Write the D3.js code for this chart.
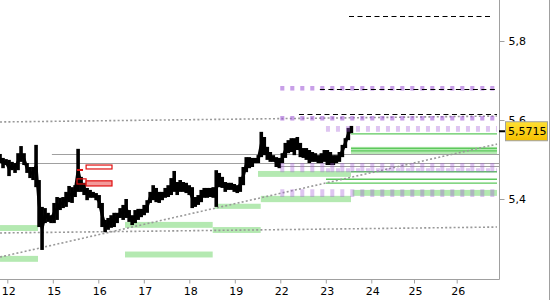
<!DOCTYPE html>
<html><head><meta charset="utf-8">
<script src="https://cdn.jsdelivr.net/npm/d3@7"></script>
<style>
body{margin:0;background:#fff}
svg{display:block}
text{font-family:"DejaVu Sans",sans-serif;font-size:11px;fill:#000}
</style>
</head><body><svg id="c" width="550" height="300"></svg>
<script>
// ---- data ----
const dayLabels = ["12","15","16","17","18","19","22","23","24","25","26"];
const yTicks = [5.4, 5.6, 5.8];
const lastPrice = 5.5715;
const priceStart = -0.16;   // day index of first bar
const priceStep = 0.066;    // days between bars
const priceHigh = [5.514,5.504,5.501,5.499,5.494,5.491,5.516,5.534,5.516,5.491,
5.481,5.481,5.537,5.448,5.380,5.377,5.365,5.359,5.390,5.405,
5.403,5.405,5.418,5.433,5.430,5.435,5.527,5.456,5.441,5.428,
5.423,5.418,5.415,5.410,5.390,5.347,5.352,5.359,5.365,5.365,
5.377,5.385,5.400,5.372,5.359,5.372,5.375,5.375,5.385,5.397,
5.418,5.435,5.428,5.418,5.418,5.428,5.435,5.453,5.471,5.443,
5.448,5.443,5.441,5.435,5.430,5.405,5.410,5.423,5.428,5.428,
5.428,5.430,5.473,5.466,5.456,5.443,5.441,5.441,5.438,5.435,
5.456,5.481,5.506,5.506,5.504,5.504,5.511,5.570,5.557,5.532,
5.519,5.511,5.506,5.504,5.516,5.542,5.549,5.554,5.554,5.557,
5.542,5.529,5.529,5.524,5.519,5.516,5.511,5.516,5.524,5.524,
5.519,5.511,5.511,5.519,5.537,5.554,5.580,5.585];
const priceLow = [5.491,5.478,5.486,5.458,5.473,5.466,5.473,5.494,5.486,5.466,
5.453,5.448,5.430,5.329,5.271,5.339,5.342,5.339,5.339,5.347,
5.372,5.377,5.380,5.392,5.390,5.405,5.418,5.418,5.410,5.397,
5.403,5.403,5.397,5.377,5.329,5.316,5.322,5.327,5.329,5.339,
5.352,5.347,5.352,5.342,5.334,5.339,5.347,5.354,5.359,5.365,
5.390,5.397,5.392,5.390,5.397,5.403,5.405,5.410,5.418,5.410,
5.418,5.418,5.415,5.410,5.377,5.380,5.385,5.392,5.403,5.403,
5.405,5.403,5.380,5.430,5.428,5.418,5.423,5.423,5.418,5.415,
5.418,5.435,5.468,5.478,5.481,5.491,5.491,5.506,5.511,5.499,
5.494,5.494,5.481,5.478,5.491,5.504,5.516,5.519,5.511,5.524,
5.506,5.504,5.499,5.491,5.494,5.494,5.491,5.491,5.494,5.486,
5.486,5.486,5.491,5.494,5.506,5.529,5.549,5.567];
// trend lines: [dayStart, priceStart, dayEnd, priceEnd]
const trendLines = [[-0.16,5.595,10.944,5.610],[-0.16,5.314,10.944,5.329],[-0.16,5.253,10.944,5.539]];
// horizontal gray levels: [dayStart, dayEnd, price]
const grayLevels = [[0.98,11,5.513],[-0.16,11,5.490],[6.0,11,5.484]];
// green zones: [dayStart, dayEnd, priceLow, priceHigh]
const greenZones = [[-0.16,0.675,5.319,5.334],[-0.16,0.675,5.241,5.256],
[2.587,4.514,5.327,5.342],[2.587,4.514,5.252,5.267],[4.514,5.569,5.314,5.329],
[4.565,5.569,5.375,5.388],[5.51,7.554,5.456,5.471],[5.572,7.554,5.392,5.408],
[7.59,10.944,5.408,5.423],[7.554,10.944,5.514,5.532]];
// green levels: [dayStart, dayEnd, price]
const greenLevels = [[7.554,10.944,5.565],[7.554,10.944,5.528],[7.554,10.944,5.522],
[7.554,10.944,5.469],[7.004,10.944,5.450],[7.004,10.944,5.440]];
// purple zones: [dayStart, dayEnd, priceLow, priceHigh]
const purpleZones = [[6.0,10.944,5.675,5.686],[6.0,10.944,5.675,5.686],
[6.0,10.944,5.599,5.610],[6.0,10.944,5.599,5.610],[7.004,10.944,5.570,5.585],
[6.0,10.944,5.468,5.491],[7.004,10.944,5.468,5.478],[6.0,10.944,5.405,5.425]];
// black dashed levels: [dayStart, dayEnd, price]
const dashedLevels = [[7.51,10.85,5.863],[6.87,10.944,5.678],[6.41,10.944,5.615]];
// red boxes: [dayStart, dayEnd, priceLow, priceHigh]
const redOutlined = [[1.732,2.301,5.476,5.486],[1.532,1.732,5.438,5.451]];
const redFilled = [[1.732,2.301,5.433,5.446]];
const redMarks = [[1.532,1.664,5.471,5.476]];

// ---- chart ----
const W = 550, H = 300, plotR = 499, plotB = 279;
const svg = d3.select("#c");
const x = d3.scaleLinear().domain([0, 8, 10]).range([7.3, 371.3, 456.7]);
const y = d3.scaleLinear().domain([5.4, 5.8]).range([199, 41]);

svg.append("defs").append("clipPath").attr("id","clip")
  .append("rect").attr("x",0).attr("y",0).attr("width",plotR).attr("height",plotB);
const g = svg.append("g").attr("clip-path","url(#clip)");

// green zones
g.selectAll(".gz").data(greenZones).join("rect")
  .attr("x", d => x(d[0])).attr("width", d => x(d[1]) - x(d[0]))
  .attr("y", d => y(d[3])).attr("height", d => y(d[2]) - y(d[3]))
  .attr("fill", "#b4e9b1");

// gray levels
g.selectAll(".gl").data(grayLevels).join("line")
  .attr("x1", d => x(d[0])).attr("x2", d => x(d[1]))
  .attr("y1", d => Math.round(y(d[2])) + 0.5).attr("y2", d => Math.round(y(d[2])) + 0.5)
  .attr("stroke", "#a0a0a0").attr("stroke-width", 1);

// green levels
g.selectAll(".gn").data(greenLevels).join("line")
  .attr("x1", d => x(d[0])).attr("x2", d => x(d[1]))
  .attr("y1", d => y(d[2])).attr("y2", d => y(d[2]))
  .attr("stroke", "#5cc85c").attr("stroke-width", 1.3);

// trend lines (dotted)
g.selectAll(".tl").data(trendLines).join("line")
  .attr("x1", d => x(d[0])).attr("y1", d => y(d[1]))
  .attr("x2", d => x(d[2])).attr("y2", d => y(d[3]))
  .attr("stroke", "#999").attr("stroke-width", 1.6).attr("stroke-dasharray", "2,2.2");

// price bars
const bars = priceHigh.map((h, i) => ({t: priceStart + i * priceStep, h, l: priceLow[i]}));
g.selectAll(".pb").data(bars).join("rect")
  .attr("x", d => x(d.t) - 1.8).attr("width", 3.6)
  .attr("y", d => y(d.h)).attr("height", d => Math.max(2, y(d.l) - y(d.h)))
  .attr("fill", "#000");
g.append("path").datum(bars)
  .attr("d", d3.line().x(d => x(d.t)).y(d => (y(d.h) + y(d.l)) / 2))
  .attr("fill", "none").attr("stroke", "#000").attr("stroke-width", 3);

// purple zones (dashed squares)
g.selectAll(".pz").data(purpleZones).join("line")
  .attr("x1", d => x(d[0])).attr("x2", d => x(d[1]))
  .attr("y1", d => (y(d[2]) + y(d[3])) / 2).attr("y2", d => (y(d[2]) + y(d[3])) / 2)
  .attr("stroke", "rgb(160,90,215)").attr("stroke-opacity", 0.35)
  .attr("stroke-width", d => y(d[2]) - y(d[3]))
  .attr("stroke-dasharray", "4,6");

// black dashed levels
g.selectAll(".dl").data(dashedLevels).join("line")
  .attr("x1", d => x(d[0])).attr("x2", d => x(d[1]))
  .attr("y1", d => Math.round(y(d[2])) + 0.5).attr("y2", d => Math.round(y(d[2])) + 0.5)
  .attr("stroke", "#000").attr("stroke-width", 1).attr("stroke-dasharray", "5,3.5");

// red boxes
g.selectAll(".ro").data(redOutlined).join("rect")
  .attr("x", d => x(d[0])).attr("width", d => x(d[1]) - x(d[0]))
  .attr("y", d => y(d[3])).attr("height", d => y(d[2]) - y(d[3]))
  .attr("fill", (d, i) => i === 0 ? "#fff" : "none").attr("stroke", "#e01010").attr("stroke-width", 1.2);
g.selectAll(".rf").data(redFilled).join("rect")
  .attr("x", d => x(d[0])).attr("width", d => x(d[1]) - x(d[0]))
  .attr("y", d => y(d[3])).attr("height", d => y(d[2]) - y(d[3]))
  .attr("fill", "#f39a9a").attr("stroke", "#e01010").attr("stroke-width", 1.2);
g.selectAll(".rm").data(redMarks).join("rect")
  .attr("x", d => x(d[0])).attr("width", d => x(d[1]) - x(d[0]))
  .attr("y", d => y(d[3])).attr("height", d => y(d[2]) - y(d[3]))
  .attr("fill", "#e01010");

// borders
const axisCol = "#a0a0a0";
svg.append("line").attr("x1", plotR + 0.5).attr("x2", plotR + 0.5).attr("y1", 0).attr("y2", plotB + 0.5).attr("stroke", axisCol);
svg.append("line").attr("x1", 0).attr("x2", plotR + 0.5).attr("y1", plotB + 0.5).attr("y2", plotB + 0.5).attr("stroke", axisCol);
svg.append("line").attr("x1", W - 0.5).attr("x2", W - 0.5).attr("y1", 0).attr("y2", H).attr("stroke", axisCol);

// y axis
const yAx = svg.append("g").attr("transform", `translate(${plotR + 0.5},0)`)
  .call(d3.axisRight(y).tickValues(yTicks).tickSize(5).tickPadding(4)
    .tickFormat(d => d3.format(".1f")(d).replace(".", ",")));
yAx.select(".domain").remove();
yAx.selectAll("line").attr("stroke", axisCol);
yAx.selectAll("text").attr("font-family", "DejaVu Sans").attr("font-size", 11).attr("fill", "#000");

// x axis
const xAx = svg.append("g").attr("transform", `translate(0,${plotB + 0.5})`)
  .call(d3.axisBottom(x).tickValues(d3.range(dayLabels.length)).tickSize(4).tickPadding(4)
    .tickFormat(i => dayLabels[i]));
xAx.select(".domain").remove();
xAx.selectAll("line").attr("stroke", axisCol);
xAx.selectAll("text").attr("font-family", "DejaVu Sans").attr("font-size", 11).attr("fill", "#000").attr("dx", 1);

// last price marker
const grad = svg.select("defs").append("linearGradient").attr("id", "yg").attr("x1", 0).attr("x2", 0).attr("y1", 0).attr("y2", 1);
grad.append("stop").attr("offset", 0).attr("stop-color", "#ffe033");
grad.append("stop").attr("offset", 1).attr("stop-color", "#f5c000");
const ly = y(lastPrice);
svg.append("line").attr("x1", plotR).attr("x2", plotR + 6).attr("y1", ly).attr("y2", ly).attr("stroke", "#000").attr("stroke-width", 2);
svg.append("rect").attr("x", 505.5).attr("y", ly - 9.5).attr("width", 42).attr("height", 19)
  .attr("fill", "url(#yg)").attr("stroke", axisCol);
svg.append("text").attr("x", 508).attr("y", ly).attr("dy", "0.36em")
  .text(d3.format(".4f")(lastPrice).replace(".", ","));
</script>
</body></html>
